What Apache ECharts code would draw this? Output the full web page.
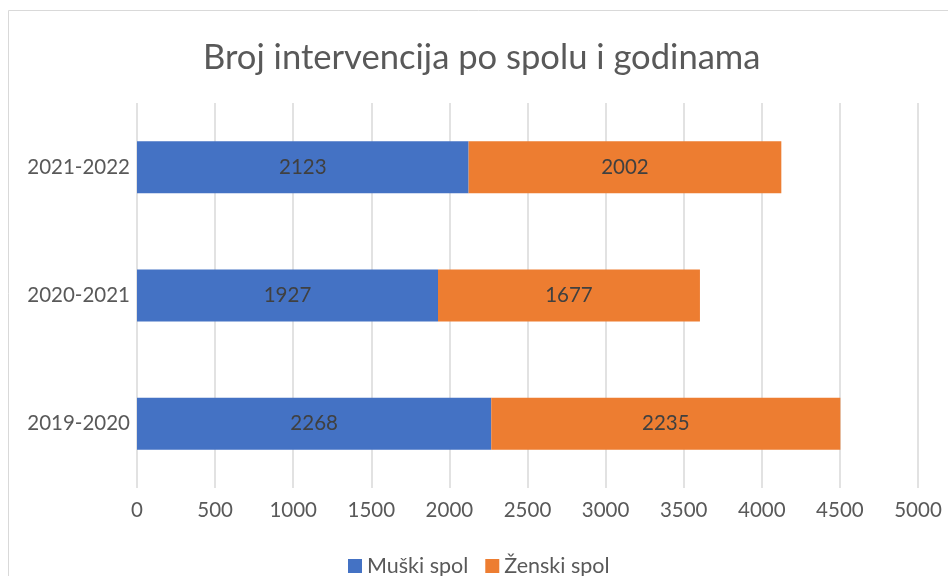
<!DOCTYPE html>
<html><head><meta charset="utf-8">
<script src="https://cdn.jsdelivr.net/npm/echarts@6/dist/echarts.min.js"></script>
<style>html,body{margin:0;padding:0;background:#fff}#c{width:948px;height:576px}</style>
</head><body><div id="c"></div>
<script>
const categories = ['2019-2020', '2020-2021', '2021-2022'];
const male = [2268, 1927, 2123];
const female = [2235, 1677, 2002];
const seriesNames = ['Muški spol', 'Ženski spol'];
const xMin = 0, xMax = 5000, xInterval = 500;

const chart = echarts.init(document.getElementById('c'));
const font = 'Lato, "Open Sans", sans-serif';
const fs = 20.5;
const labelCfg = {show: true, position: 'inside', color: '#404040', fontSize: fs, fontFamily: font};
chart.setOption({
  animation: false,
  textStyle: {fontFamily: font},
  graphic: [{type: 'rect', shape: {x: 8.5, y: 10.5, width: 1200, height: 1200}, style: {fill: 'none', stroke: '#d9d9d9', lineWidth: 1}, silent: true, z: -1}],
  title: {text: 'Broj intervencija po spolu i godinama', left: 198, top: 35,
    textStyle: {fontFamily: font, fontSize: 34.6, fontWeight: 'normal', color: '#595959'}},
  legend: {bottom: -6, left: 343, itemWidth: 14, itemHeight: 14, itemGap: 17, icon: 'rect',
    textStyle: {fontFamily: font, fontSize: 21.5, color: '#595959'}, data: seriesNames},
  grid: {left: 137, right: 30, top: 103, bottom: 88, containLabel: false},
  xAxis: {type: 'value', min: xMin, max: xMax, interval: xInterval,
    axisLine: {show: false}, axisTick: {show: false},
    axisLabel: {fontSize: fs, color: '#595959', margin: 12, fontFamily: font, formatter: v => String(v)},
    splitLine: {lineStyle: {color: '#d9d9d9', width: 1.5}}},
  yAxis: {type: 'category', data: categories, axisLine: {show: false}, axisTick: {show: false},
    axisLabel: {fontSize: fs, color: '#595959', margin: 7, fontFamily: font}},
  series: [
    {name: seriesNames[0], type: 'bar', stack: 'a', data: male, barWidth: 52, itemStyle: {color: '#4472c4'}, label: labelCfg},
    {name: seriesNames[1], type: 'bar', stack: 'a', data: female, barWidth: 52, itemStyle: {color: '#ed7d31'}, label: labelCfg}
  ]
});
</script></body></html>
